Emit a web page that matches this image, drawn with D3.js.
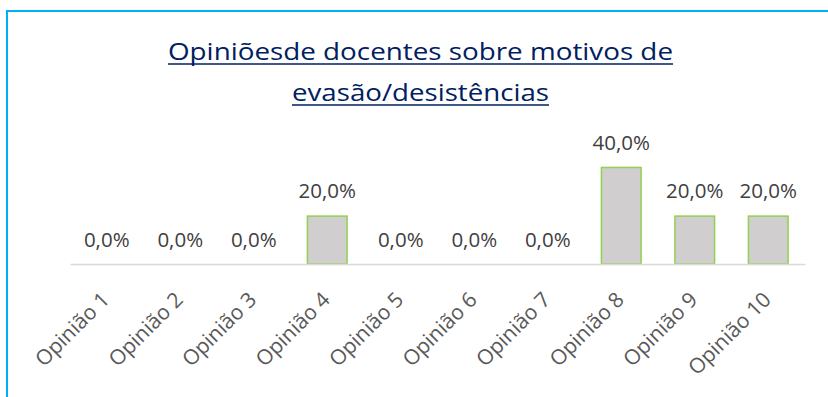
<!DOCTYPE html>
<html>
<head>
<meta charset="utf-8">
<script src="https://cdn.jsdelivr.net/npm/d3@7"></script>
<style>
  html, body { margin: 0; padding: 0; background: #fff; }
  svg { display: block; }
</style>
</head>
<body>
<svg id="chart" width="828" height="397"></svg>
<script>
// Chart data
const categories = ["Opinião 1", "Opinião 2", "Opinião 3", "Opinião 4", "Opinião 5",
                    "Opinião 6", "Opinião 7", "Opinião 8", "Opinião 9", "Opinião 10"];
const values = [0.0, 0.0, 0.0, 0.2, 0.0, 0.0, 0.0, 0.4, 0.2, 0.2];
const titleLines = ["Opiniõesde docentes sobre motivos de", "evasão/desistências"];

const W = 828, H = 397;
const svg = d3.select("#chart");

// Frame: blue top and left edges
const frameColor = "#00b0f0";
svg.append("line").attr("x1", 6).attr("x2", W).attr("y1", 11).attr("y2", 11)
  .attr("stroke", frameColor).attr("stroke-width", 2);
svg.append("line").attr("x1", 7).attr("x2", 7).attr("y1", 10).attr("y2", H)
  .attr("stroke", frameColor).attr("stroke-width", 2);

// Title, two underlined lines
const titleColor = "#002060";
const titleCx = 420.5;
const titleSpecs = [
  { text: titleLines[0], y: 59.5, len: 505 },
  { text: titleLines[1], y: 100.5, len: 257 }
];
titleSpecs.forEach(t => {
  svg.append("text")
    .attr("x", titleCx).attr("y", t.y)
    .attr("text-anchor", "middle")
    .attr("font-family", "'Open Sans', sans-serif")
    .attr("font-size", 23.5)
    .attr("fill", titleColor)
    .attr("textLength", t.len)
    .attr("lengthAdjust", "spacingAndGlyphs")
    .text(t.text);
  svg.append("line")
    .attr("x1", titleCx - t.len / 2).attr("x2", titleCx + t.len / 2)
    .attr("y1", t.y + 4.5).attr("y2", t.y + 4.5)
    .attr("stroke", titleColor).attr("stroke-width", 1.6);
});

// Scales
const plotLeft = 70, plotRight = 805, baseY = 264;
const x = d3.scaleBand()
  .domain(categories)
  .range([plotLeft, plotRight])
  .paddingInner(0.44)
  .paddingOuter(0.22);
const y = d3.scaleLinear().domain([0, 0.4]).range([baseY, 166.7]);

// Bars
svg.append("g").selectAll("rect")
  .data(values)
  .join("rect")
  .attr("x", (d, i) => x(categories[i]) + 0.75)
  .attr("width", x.bandwidth() - 1.5)
  .attr("y", d => y(d) + 0.75)
  .attr("height", d => Math.max(0, baseY - y(d) - 0.75))
  .attr("fill", "#d0cece")
  .attr("stroke", "#92d050")
  .attr("stroke-width", 1.5)
  .attr("display", d => d > 0 ? null : "none");

// Category axis
const xAxis = d3.axisBottom(x).tickSize(0).tickPadding(0);
const gx = svg.append("g").attr("transform", `translate(0,${baseY})`).call(xAxis);
gx.select(".domain").attr("stroke", "#d9d9d9").attr("stroke-width", 1.5);
gx.selectAll(".tick text")
  .attr("font-family", "'Open Sans', sans-serif")
  .attr("font-size", 21)
  .attr("fill", "#595959")
  .attr("text-anchor", "end")
  .attr("dy", null)
  .attr("y", 0)
  .attr("transform", "translate(4,37) rotate(-45)");

// Value labels
const fmt = v => (v * 100).toFixed(1).replace(".", ",") + "%";
svg.append("g").selectAll("text")
  .data(values)
  .join("text")
  .attr("x", (d, i) => x(categories[i]) + x.bandwidth() / 2)
  .attr("y", d => y(d) - 17)
  .attr("text-anchor", "middle")
  .attr("font-family", "'Open Sans', sans-serif")
  .attr("font-size", 20.5)
  .attr("fill", "#404040")
  .text(fmt);
</script>
</body>
</html>
